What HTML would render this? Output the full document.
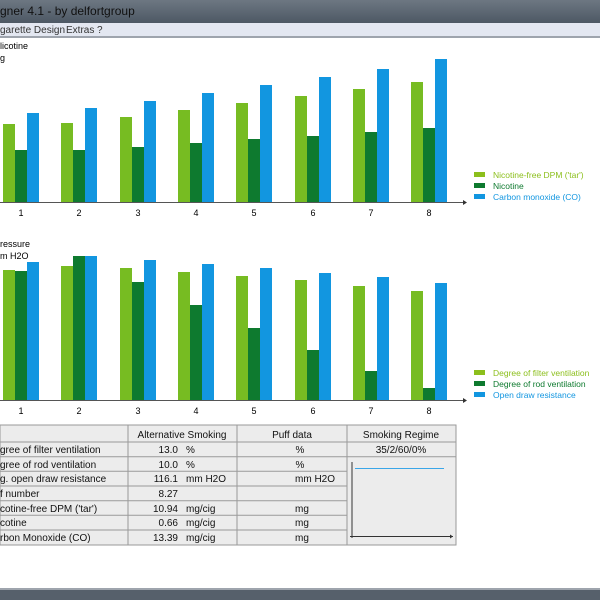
<!DOCTYPE html>
<html><head><meta charset="utf-8"><style>
body{margin:0;width:600px;height:600px;overflow:hidden;background:#fff;font-family:"Liberation Sans",sans-serif;}
svg{position:absolute;left:0;top:0}
</style></head><body>
<svg width="600" height="600" xmlns="http://www.w3.org/2000/svg" font-family="Liberation Sans, sans-serif">
<defs>
<linearGradient id="tb" x1="0" y1="0" x2="0" y2="1"><stop offset="0" stop-color="#6d7782"/><stop offset="1" stop-color="#4d5864"/></linearGradient>
</defs>
<rect x="0" y="0" width="600" height="23" fill="url(#tb)"/>
<text x="0" y="15" font-size="12" fill="#111">gner 4.1 - by delfortgroup</text>
<rect x="0" y="23" width="600" height="13" fill="#e3e7f1"/>
<rect x="0" y="36" width="600" height="2" fill="#9ea4ad"/>
<text x="0" y="33" font-size="10" fill="#333">garette Design</text>
<text x="66" y="33" font-size="10" fill="#333">Extras</text>
<text x="97" y="33" font-size="10" fill="#333">?</text>
<rect x="0" y="590" width="600" height="10" fill="#56606b"/>
<rect x="0" y="588" width="600" height="2" fill="#9ea4ad"/>

<text x="0" y="49" font-size="9" fill="#000">licotine</text>
<text x="0" y="61" font-size="9" fill="#000">g</text>
<text x="0" y="247" font-size="9" fill="#000">ressure</text>
<text x="0" y="259" font-size="9" fill="#000">m H2O</text>

<g id="top">
<rect x="3" y="124" width="12" height="78" fill="#77bc22"/><rect x="15" y="150" width="12" height="52" fill="#0e7a2f"/><rect x="27" y="113" width="12" height="89" fill="#1296e0"/>
<rect x="61" y="123" width="12" height="79" fill="#77bc22"/><rect x="73" y="150" width="12" height="52" fill="#0e7a2f"/><rect x="85" y="108" width="12" height="94" fill="#1296e0"/>
<rect x="120" y="117" width="12" height="85" fill="#77bc22"/><rect x="132" y="147" width="12" height="55" fill="#0e7a2f"/><rect x="144" y="101" width="12" height="101" fill="#1296e0"/>
<rect x="178" y="110" width="12" height="92" fill="#77bc22"/><rect x="190" y="143" width="12" height="59" fill="#0e7a2f"/><rect x="202" y="93" width="12" height="109" fill="#1296e0"/>
<rect x="236" y="103" width="12" height="99" fill="#77bc22"/><rect x="248" y="139" width="12" height="63" fill="#0e7a2f"/><rect x="260" y="85" width="12" height="117" fill="#1296e0"/>
<rect x="295" y="96" width="12" height="106" fill="#77bc22"/><rect x="307" y="136" width="12" height="66" fill="#0e7a2f"/><rect x="319" y="77" width="12" height="125" fill="#1296e0"/>
<rect x="353" y="89" width="12" height="113" fill="#77bc22"/><rect x="365" y="132" width="12" height="70" fill="#0e7a2f"/><rect x="377" y="69" width="12" height="133" fill="#1296e0"/>
<rect x="411" y="82" width="12" height="120" fill="#77bc22"/><rect x="423" y="128" width="12" height="74" fill="#0e7a2f"/><rect x="435" y="59" width="12" height="143" fill="#1296e0"/>
<line x1="0" y1="202.5" x2="466" y2="202.5" stroke="#555" stroke-width="1"/>
<path d="M463 200 L467 202.5 L463 205Z" fill="#333"/>
<g font-size="9" fill="#000" text-anchor="middle">
<text x="21" y="216">1</text><text x="79" y="216">2</text><text x="138" y="216">3</text><text x="196" y="216">4</text><text x="254" y="216">5</text><text x="313" y="216">6</text><text x="371" y="216">7</text><text x="429" y="216">8</text>
</g>
<g font-size="8.5">
<rect x="474" y="172" width="11" height="5" fill="#8cbf1c"/><text x="493" y="178" fill="#8cbf1c">Nicotine-free DPM ('tar')</text>
<rect x="474" y="183" width="11" height="5" fill="#0e7a2f"/><text x="493" y="189" fill="#0e7a2f">Nicotine</text>
<rect x="474" y="194" width="11" height="5" fill="#1296e0"/><text x="493" y="200" fill="#1296e0">Carbon monoxide (CO)</text>
</g>
</g>

<g id="bot">
<rect x="3" y="270" width="12" height="130" fill="#77bc22"/><rect x="15" y="271" width="12" height="129" fill="#0e7a2f"/><rect x="27" y="262" width="12" height="138" fill="#1296e0"/>
<rect x="61" y="266" width="12" height="134" fill="#77bc22"/><rect x="73" y="256" width="12" height="144" fill="#0e7a2f"/><rect x="85" y="256" width="12" height="144" fill="#1296e0"/>
<rect x="120" y="268" width="12" height="132" fill="#77bc22"/><rect x="132" y="282" width="12" height="118" fill="#0e7a2f"/><rect x="144" y="260" width="12" height="140" fill="#1296e0"/>
<rect x="178" y="272" width="12" height="128" fill="#77bc22"/><rect x="190" y="305" width="12" height="95" fill="#0e7a2f"/><rect x="202" y="264" width="12" height="136" fill="#1296e0"/>
<rect x="236" y="276" width="12" height="124" fill="#77bc22"/><rect x="248" y="328" width="12" height="72" fill="#0e7a2f"/><rect x="260" y="268" width="12" height="132" fill="#1296e0"/>
<rect x="295" y="280" width="12" height="120" fill="#77bc22"/><rect x="307" y="350" width="12" height="50" fill="#0e7a2f"/><rect x="319" y="273" width="12" height="127" fill="#1296e0"/>
<rect x="353" y="286" width="12" height="114" fill="#77bc22"/><rect x="365" y="371" width="12" height="29" fill="#0e7a2f"/><rect x="377" y="277" width="12" height="123" fill="#1296e0"/>
<rect x="411" y="291" width="12" height="109" fill="#77bc22"/><rect x="423" y="388" width="12" height="12" fill="#0e7a2f"/><rect x="435" y="283" width="12" height="117" fill="#1296e0"/>
<line x1="0" y1="400.5" x2="466" y2="400.5" stroke="#555" stroke-width="1"/>
<path d="M463 398 L467 400.5 L463 403Z" fill="#333"/>
<g font-size="9" fill="#000" text-anchor="middle">
<text x="21" y="414">1</text><text x="79" y="414">2</text><text x="138" y="414">3</text><text x="196" y="414">4</text><text x="254" y="414">5</text><text x="313" y="414">6</text><text x="371" y="414">7</text><text x="429" y="414">8</text>
</g>
<g font-size="8.5">
<rect x="474" y="370" width="11" height="5" fill="#8cbf1c"/><text x="493" y="376" fill="#8cbf1c">Degree of filter ventilation</text>
<rect x="474" y="381" width="11" height="5" fill="#0e7a2f"/><text x="493" y="387" fill="#0e7a2f">Degree of rod ventilation</text>
<rect x="474" y="392" width="11" height="5" fill="#1296e0"/><text x="493" y="398" fill="#1296e0">Open draw resistance</text>
</g>
</g>

<g id="table" font-size="10" fill="#111">
<rect x="0" y="425" width="456" height="120" fill="#ececec" stroke="#999"/>
<g stroke="#999" stroke-width="1">
<line x1="0" y1="442" x2="456" y2="442"/>
<line x1="0" y1="456.7" x2="456" y2="456.7"/>
<line x1="0" y1="471.3" x2="347" y2="471.3"/>
<line x1="0" y1="486" x2="347" y2="486"/>
<line x1="0" y1="500.7" x2="347" y2="500.7"/>
<line x1="0" y1="515.3" x2="347" y2="515.3"/>
<line x1="0" y1="530" x2="347" y2="530"/>
<line x1="128" y1="425" x2="128" y2="545"/>
<line x1="237" y1="425" x2="237" y2="545"/>
<line x1="347" y1="425" x2="347" y2="545"/>
</g>
<g text-anchor="middle">
<text x="182" y="438">Alternative Smoking</text>
<text x="292" y="438">Puff data</text>
<text x="401" y="438">Smoking Regime</text>
<text x="401" y="453">35/2/60/0%</text>
</g>
<text x="0" y="453">gree of filter ventilation</text>
<text x="0" y="468">gree of rod ventilation</text>
<text x="0" y="482">g. open draw resistance</text>
<text x="0" y="497">f number</text>
<text x="0" y="512">cotine-free DPM ('tar')</text>
<text x="0" y="526">cotine</text>
<text x="0" y="541">rbon Monoxide (CO)</text>
<g text-anchor="end">
<text x="178" y="453">13.0</text><text x="178" y="468">10.0</text><text x="178" y="482">116.1</text><text x="178" y="497">8.27</text><text x="178" y="512">10.94</text><text x="178" y="526">0.66</text><text x="178" y="541">13.39</text>
</g>
<text x="186" y="453">%</text><text x="186" y="468">%</text><text x="186" y="482">mm H2O</text>
<text x="186" y="512">mg/cig</text><text x="186" y="526">mg/cig</text><text x="186" y="541">mg/cig</text>
<g text-anchor="middle">
<text x="300" y="453">%</text><text x="300" y="468">%</text><text x="315" y="482">mm H2O</text>
<text x="302" y="512">mg</text><text x="302" y="526">mg</text><text x="302" y="541">mg</text>
</g>
<line x1="352" y1="462" x2="352" y2="538" stroke="#333"/>
<line x1="350" y1="536.5" x2="453" y2="536.5" stroke="#333"/>
<path d="M450 534.5 L453 536.5 L450 538.5Z" fill="#333"/>
<line x1="355" y1="468.5" x2="444" y2="468.5" stroke="#3aa6e8"/>
</g>
</svg>
</body></html>
